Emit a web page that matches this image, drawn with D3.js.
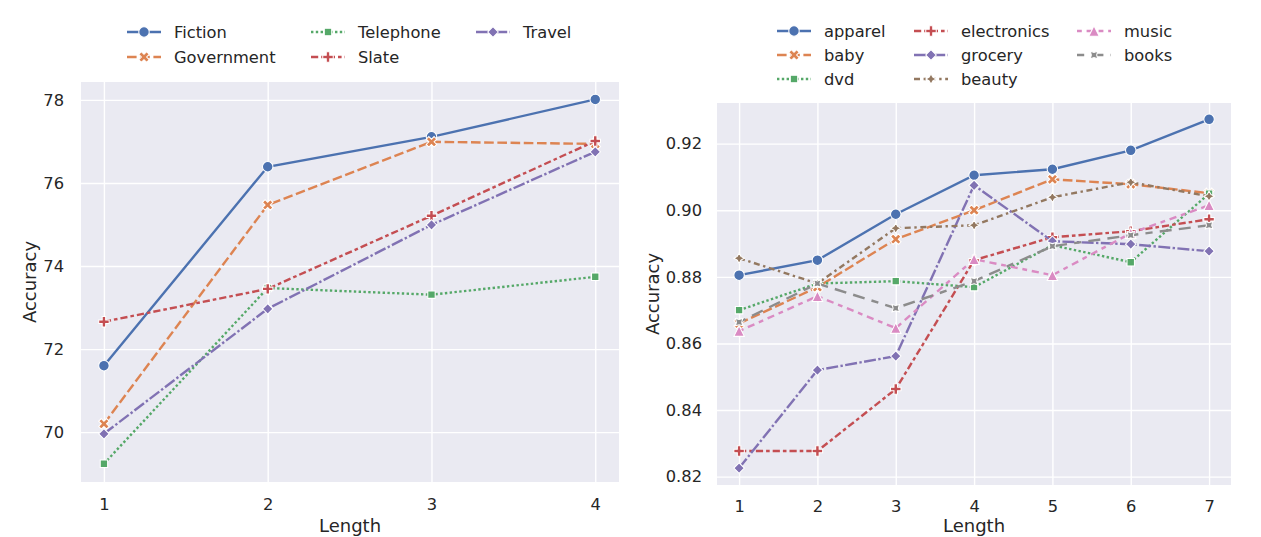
<!DOCTYPE html>
<html>
<head>
<meta charset="utf-8">
<script src="https://cdn.jsdelivr.net/npm/d3@7"></script>
<style>
  body { margin: 0; background: #ffffff; }
  svg { display: block; font-family: "DejaVu Sans", sans-serif; }
  .tick text { fill: #262626; }
  .axis-label { fill: #262626; }
  .legend text { fill: #262626; }
</style>
</head>
<body>
<svg id="chart" width="1261" height="537"></svg>
<script>
// left panel: genres
const genreLengths = [1, 2, 3, 4];
const genreNames = ['Fiction', 'Government', 'Telephone', 'Slate', 'Travel'];
const fiction = [71.60, 76.39, 77.11, 78.01];
const government = [70.20, 75.47, 76.99, 76.94];
const telephone = [69.24, 73.47, 73.31, 73.74];
const slate = [72.66, 73.45, 75.21, 77.01];
const travel = [69.96, 72.97, 74.99, 76.75];
const genreTicks = [70, 72, 74, 76, 78];

// right panel: product domains
const domainLengths = [1, 2, 3, 4, 5, 6, 7];
const domainNames = ['apparel', 'baby', 'dvd', 'electronics', 'grocery', 'beauty', 'music', 'books'];
const apparel = [0.8805, 0.8850, 0.8988, 0.9105, 0.9123, 0.9180, 0.9273];
const baby = [0.8660, 0.8769, 0.8913, 0.9000, 0.9093, 0.9078, 0.9051];
const dvd = [0.8700, 0.8780, 0.8787, 0.8769, 0.8895, 0.8844, 0.9050];
const electronics = [0.8277, 0.8277, 0.8463, 0.8850, 0.8919, 0.8937, 0.8973];
const grocery = [0.8226, 0.8520, 0.8562, 0.9075, 0.8907, 0.8898, 0.8877];
const beauty = [0.8856, 0.8780, 0.8946, 0.8955, 0.9039, 0.9084, 0.9042];
const music = [0.8637, 0.8742, 0.8646, 0.8853, 0.8805, 0.8931, 0.9015];
const books = [0.8664, 0.8780, 0.8706, 0.8787, 0.8892, 0.8925, 0.8955];
const domainTicks = [0.82, 0.84, 0.86, 0.88, 0.90, 0.92];

// seaborn "deep" palette, markers and dash specs (in line-width units)
const palette = ['#4C72B0', '#DD8452', '#55A868', '#C44E52', '#8172B3', '#937860', '#DA8BC3', '#8C8C8C'];
const markerTypes = ['circle', 'xfill', 'square', 'plus', 'diamond', 'star', 'triangle', 'starx'];
const dashSpecs = [[], [4, 1.5], [1, 1], [3, 1.25, 1.5, 1.25], [5, 1, 1, 1], [2.5, 1.5, 1, 1.5], [2, 2, 3, 2], [3, 3, 5, 3, 5, 3, 5, 3]];

const lineWidth = 2.4;
const markerSize = 10.5;
const svg = d3.select('#chart');

function polyPath(points) {
  return 'M' + points.map(p => p[0].toFixed(2) + ',' + p[1].toFixed(2)).join('L') + 'Z';
}

function markerPath(type, s) {
  const r = s / 2;
  if (type === 'circle') {
    return `M${r},0A${r},${r} 0 1,1 ${-r},0A${r},${r} 0 1,1 ${r},0Z`;
  }
  if (type === 'xfill') {
    const pts = [[-1, -2], [0, -1], [1, -2], [2, -1], [1, 0], [2, 1], [1, 2], [0, 1], [-1, 2], [-2, 1], [-1, 0], [-2, -1]];
    return polyPath(pts.map(p => [p[0] * s / 4, p[1] * s / 4]));
  }
  if (type === 'plus') {
    const pts = [[-1, -3], [1, -3], [1, -1], [3, -1], [3, 1], [1, 1], [1, 3], [-1, 3], [-1, 1], [-3, 1], [-3, -1], [-1, -1]];
    return polyPath(pts.map(p => [p[0] * s / 6, p[1] * s / 6]));
  }
  if (type === 'square' || type === 'diamond') {
    const offset = type === 'square' ? Math.PI / 4 : 0;
    const pts = d3.range(4).map(k => {
      const a = Math.PI / 2 + k * Math.PI / 2 + offset;
      return [r * Math.cos(a), -r * Math.sin(a)];
    });
    return polyPath(pts);
  }
  if (type === 'star' || type === 'starx') {
    const offset = type === 'starx' ? Math.PI / 4 : 0;
    const pts = d3.range(8).map(k => {
      const a = Math.PI / 2 + k * Math.PI / 4 + offset;
      const rr = k % 2 === 0 ? r : r / 2;
      return [rr * Math.cos(a), -rr * Math.sin(a)];
    });
    return polyPath(pts);
  }
  if (type === 'triangle') {
    return polyPath([[0, -r], [-r, r], [r, r]]);
  }
  return '';
}

function dashArray(i) {
  const spec = dashSpecs[i];
  return spec.length ? spec.map(v => v * lineWidth).join(' ') : null;
}

function renderPanel(cfg) {
  const { left, top, right, bottom } = cfg.box;
  const x = d3.scaleLinear().domain(cfg.xDomain).range([left, right]);
  const y = d3.scaleLinear().domain(cfg.yDomain).range([bottom, top]);

  const panel = svg.append('g');
  panel.append('rect')
    .attr('x', left).attr('y', top)
    .attr('width', right - left).attr('height', bottom - top)
    .attr('fill', '#EAEAF2');

  const gridY = panel.append('g').attr('transform', `translate(${left},0)`)
    .call(d3.axisLeft(y).tickValues(cfg.yTicks).tickSize(-(right - left)).tickFormat(''));
  const gridX = panel.append('g').attr('transform', `translate(0,${bottom})`)
    .call(d3.axisBottom(x).tickValues(cfg.xs).tickSize(-(bottom - top)).tickFormat(''));
  [gridX, gridY].forEach(g => {
    g.select('.domain').remove();
    g.selectAll('line').attr('stroke', '#ffffff').attr('stroke-width', 1.4);
  });

  const yAxis = panel.append('g').attr('transform', `translate(${left},0)`)
    .call(d3.axisLeft(y).tickValues(cfg.yTicks).tickSize(0).tickPadding(cfg.yPad).tickFormat(cfg.yFormat));
  const xAxis = panel.append('g').attr('transform', `translate(0,${bottom})`)
    .call(d3.axisBottom(x).tickValues(cfg.xs).tickSize(0).tickPadding(cfg.xPad).tickFormat(d3.format('d')));
  [xAxis, yAxis].forEach(g => {
    g.select('.domain').remove();
    g.selectAll('text').attr('font-size', 16.3).attr('font-family', '"DejaVu Sans", sans-serif');
  });

  panel.append('text')
    .attr('class', 'axis-label')
    .attr('x', (left + right) / 2)
    .attr('y', 532)
    .attr('text-anchor', 'middle')
    .attr('font-size', 18)
    .text('Length');
  panel.append('text')
    .attr('class', 'axis-label')
    .attr('transform', `translate(${cfg.yLabelX},${(top + bottom) / 2}) rotate(-90)`)
    .attr('text-anchor', 'middle')
    .attr('font-size', 18)
    .text('Accuracy');

  const line = d3.line().x(d => x(d.x)).y(d => y(d.v));
  cfg.series.forEach((values, i) => {
    const pts = cfg.xs.map((xv, j) => ({ x: xv, v: values[j] }));
    const g = panel.append('g');
    g.append('path')
      .datum(pts)
      .attr('d', line)
      .attr('fill', 'none')
      .attr('stroke', palette[i])
      .attr('stroke-width', lineWidth)
      .attr('stroke-dasharray', dashArray(i));
    g.selectAll('path.marker')
      .data(pts)
      .join('path')
      .attr('class', 'marker')
      .attr('transform', d => `translate(${x(d.x)},${y(d.v)})`)
      .attr('d', markerPath(markerTypes[i], markerSize))
      .attr('fill', palette[i])
      .attr('stroke', '#ffffff')
      .attr('stroke-width', 1.05);
  });

  const legend = panel.append('g').attr('class', 'legend');
  cfg.names.forEach((name, i) => {
    const col = Math.floor(i / cfg.legendRows.length);
    const row = i % cfg.legendRows.length;
    const hx = cfg.legendCols[col];
    const hy = cfg.legendRows[row];
    legend.append('line')
      .attr('x1', hx).attr('x2', hx + 34)
      .attr('y1', hy).attr('y2', hy)
      .attr('stroke', palette[i])
      .attr('stroke-width', lineWidth)
      .attr('stroke-dasharray', dashArray(i));
    legend.append('path')
      .attr('transform', `translate(${hx + 17},${hy})`)
      .attr('d', markerPath(markerTypes[i], markerSize))
      .attr('fill', palette[i])
      .attr('stroke', '#ffffff')
      .attr('stroke-width', 1.05);
    legend.append('text')
      .attr('x', hx + 47)
      .attr('y', hy)
      .attr('dy', '0.36em')
      .attr('font-size', 16.3)
      .text(name);
  });
}

renderPanel({
  box: { left: 81, top: 82, right: 619, bottom: 482 },
  xDomain: [0.86, 4.145],
  yDomain: [68.80, 78.43],
  xs: genreLengths,
  yTicks: genreTicks,
  yFormat: d3.format('d'),
  yPad: 17,
  xPad: 16,
  yLabelX: 36,
  series: [fiction, government, telephone, slate, travel],
  names: genreNames,
  legendCols: [127, 311, 476],
  legendRows: [32, 57]
});

renderPanel({
  box: { left: 717, top: 103, right: 1231, bottom: 485 },
  xDomain: [0.718, 7.28],
  yDomain: [0.8175, 0.9322],
  xs: domainLengths,
  yTicks: domainTicks,
  yFormat: d3.format('.2f'),
  yPad: 15,
  xPad: 15,
  yLabelX: 659,
  series: [apparel, baby, dvd, electronics, grocery, beauty, music, books],
  names: domainNames,
  legendCols: [777, 914, 1077],
  legendRows: [31, 55, 79]
});
</script>
</body>
</html>
